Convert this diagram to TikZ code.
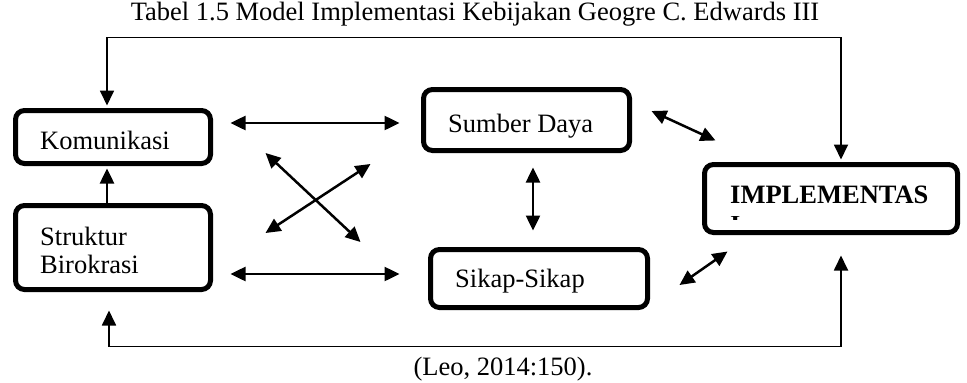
\documentclass[tikz,border=0pt]{standalone}
\usepackage{fontspec}
\setmainfont{Liberation Serif}
\usetikzlibrary{arrows.meta}

\begin{document}
\begin{tikzpicture}[x=1pt,y=-1pt,line cap=round,
    >={Triangle[length=15pt,width=14pt]},
    box/.style={draw,line width=5pt,rounded corners=9pt,inner sep=0pt},
    txt/.style={anchor=base west,inner sep=0pt,font=\fontsize{26.5}{28}\selectfont},
    dbl/.style={<->,line width=2.5pt},
    loopline/.style={<->,line width=1.8pt}]

    \useasboundingbox (0,0) rectangle (967,383);

    % title and source
    \node[txt,anchor=base] (title) at (475,20) {Tabel 1.5 Model Implementasi Kebijakan Geogre C. Edwards III};
    \node[txt,anchor=base] (source) at (503,375) {(Leo, 2014:150).};

    % draw the boxes
    \node[box,minimum width=195pt,minimum height=53pt] (kom) at (113,137) {};
    \node[box,minimum width=195pt,minimum height=84pt] (struktur) at (113,247.5) {};
    \node[box,minimum width=206pt,minimum height=61pt] (sumber) at (526.5,120) {};
    \node[box,minimum width=217pt,minimum height=58pt] (sikap) at (539,278.5) {};
    \node[box,minimum width=253pt,minimum height=68pt] (impl) at (831,198.5) {};

    % text in the boxes
    \node[txt] (komtext) at (40,149) {Komunikasi};
    \node[txt] (struktext) at (40,245) {Struktur};
    \node[txt] (birotext) at (40,273) {Birokrasi};
    \node[txt] (sumbertext) at (448,132) {Sumber Daya};
    \node[txt] (sikaptext) at (455,287) {Sikap-Sikap};
    \node[txt,font=\fontsize{26.5}{28}\selectfont\bfseries] (impltext) at (730,203) {IMPLEMENTAS};
    \begin{scope}
        \clip (725,216) rectangle (745,219.5);
        \node[txt,font=\fontsize{26.5}{28}\selectfont\bfseries] (implcut) at (730,233.5) {I};
    \end{scope}

    % struktur up to komunikasi
    \draw[->,line width=2.5pt,shorten >=2.5pt] ([xshift=-6pt]struktur.north) -- ([xshift=-6pt]kom.south);

    % double arrows
    \draw[dbl] ([xshift=17.5pt,yshift=14pt]kom.east) -- ([xshift=-21.5pt,yshift=-3pt]sumber.west);
    \draw[dbl] ([xshift=17.5pt,yshift=-26.5pt]struktur.east) -- ([xshift=-28.5pt,yshift=4.5pt]sikap.west);
    \draw[dbl] ([xshift=52.5pt,yshift=-16pt]kom.east) -- ([xshift=-67.5pt,yshift=36.5pt]sikap.west);
    \draw[dbl] ([xshift=52.5pt,yshift=14.5pt]struktur.east) -- ([xshift=-50.5pt,yshift=-44pt]sumber.west);
    \draw[dbl] ([xshift=6.5pt,yshift=-14.5pt]sumber.south) -- ([xshift=-6pt,yshift=16.5pt]sikap.north);
    \draw[dbl] ([xshift=19.5pt,yshift=9pt]sumber.east) -- ([xshift=13.5pt,yshift=21.5pt]impl.north west);
    \draw[dbl] ([xshift=29.5pt,yshift=-6.5pt]sikap.east) -- ([xshift=25.5pt,yshift=-16.5pt]impl.south west);

    % feedback lines
    \draw[loopline,shorten <=2.5pt,shorten >=2.5pt] ([xshift=-6pt]kom.north) -- ++(0,-70.5) -| ([xshift=10pt]impl.north);
    \draw[loopline] ([xshift=-4pt,yshift=-18.5pt]struktur.south) -- ++(0,36) -| ([xshift=10pt,yshift=-20.5pt]impl.south);

\end{tikzpicture}
\end{document}
